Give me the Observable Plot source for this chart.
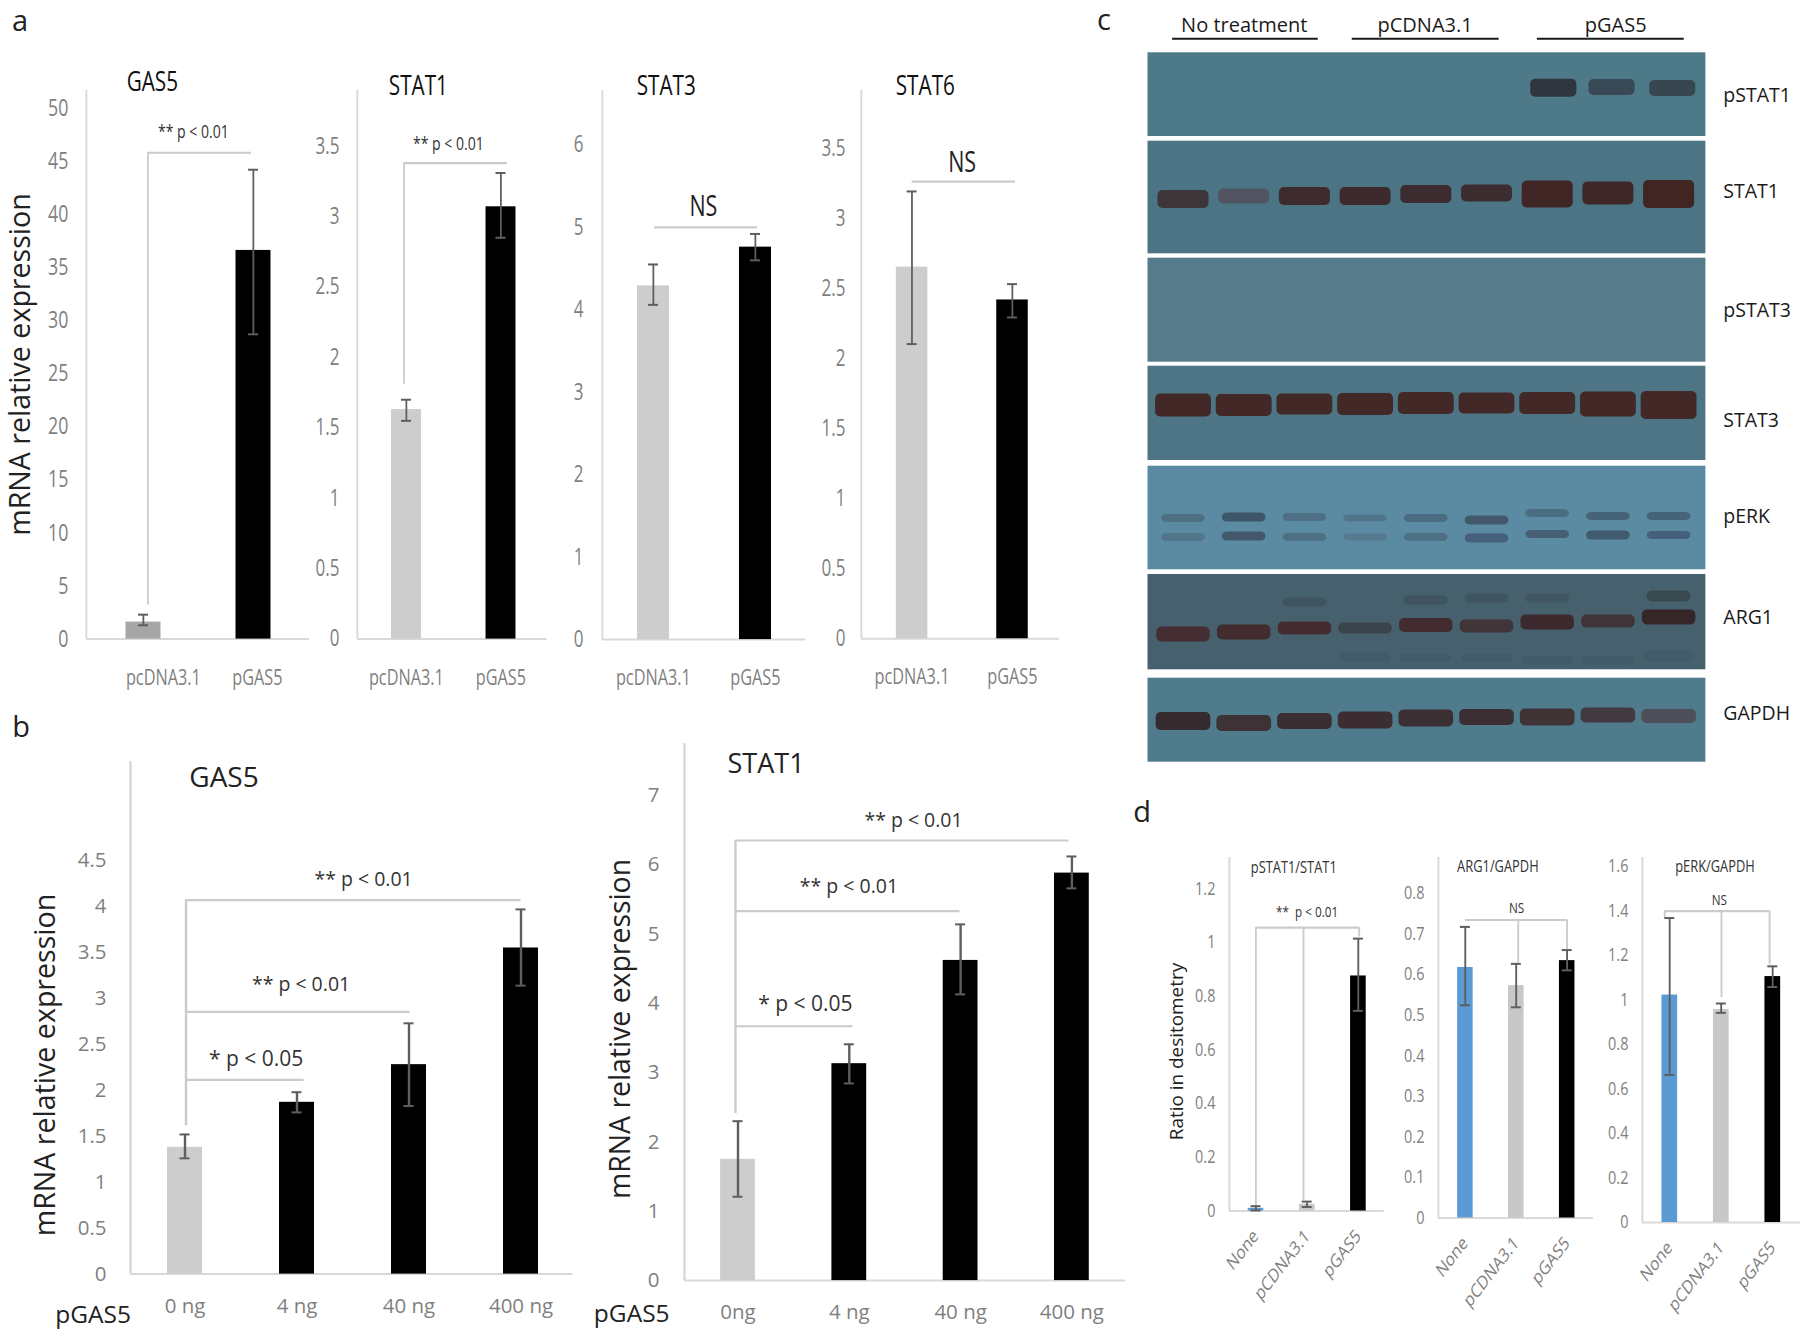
<!DOCTYPE html>
<html><head><meta charset="utf-8">
<script src="https://cdn.jsdelivr.net/npm/d3@7"></script>
<script src="https://cdn.jsdelivr.net/npm/@observablehq/plot@0.6"></script>
<style>
html,body{margin:0;background:#fff}
#stage{position:relative;width:1800px;height:1330px;background:#fff;overflow:hidden;font-family:"Open Sans",sans-serif}
#stage svg{position:absolute;background:transparent;max-width:none}
.letter{position:absolute;font-size:29px;line-height:1;color:#222;transform:translate(-50%,-50%)}
</style></head><body><div id="stage"></div>
<script>
// ---------- DATA: panel a ----------
const trialCats = ["pcDNA3.1", "pGAS5"];
const aGas5Val = [1.6, 36.6], aGas5Lo = [1.3, 28.7], aGas5Hi = [2.3, 44.2];
const aStat1Val = [1.63, 3.07], aStat1Lo = [1.55, 2.85], aStat1Hi = [1.70, 3.31];
const aStat3Val = [4.29, 4.76], aStat3Lo = [4.06, 4.60], aStat3Hi = [4.55, 4.92];
const aStat6Val = [2.655, 2.42], aStat6Lo = [2.105, 2.295], aStat6Hi = [3.195, 2.533];
const ticksGas5A = [0,5,10,15,20,25,30,35,40,45,50];
const ticksHalf = [0,0.5,1,1.5,2,2.5,3,3.5];
const ticksStat3 = [0,1,2,3,4,5,6];
// ---------- DATA: panel b ----------
const doseCatsA = ["0 ng","4 ng","40 ng","400 ng"];
const doseCatsB = ["0ng","4 ng","40 ng","400 ng"];
const bGas5Val = [1.38,1.87,2.28,3.55], bGas5Lo = [1.26,1.76,1.83,3.14], bGas5Hi = [1.52,1.98,2.73,3.97];
const bStat1Val = [1.75,3.13,4.62,5.88], bStat1Lo = [1.21,2.845,4.13,5.66], bStat1Hi = [2.30,3.41,5.14,6.12];
const ticksBGas5 = [0,0.5,1,1.5,2,2.5,3,3.5,4,4.5];
const ticksBStat1 = [0,1,2,3,4,5,6,7];
// ---------- DATA: panel d ----------
const densCats = ["None","pCDNA3.1","pGAS5"];
const dPstatVal = [0.01,0.025,0.875], dPstatLo = [0.002,0.015,0.745], dPstatHi = [0.018,0.035,1.014];
const dArgVal = [0.617,0.5725,0.634], dArgLo = [0.524,0.519,0.61], dArgHi = [0.717,0.626,0.66];
const dErkVal = [1.022,0.957,1.105], dErkLo = [0.663,0.942,1.058], dErkHi = [1.368,0.984,1.151];
const ticksDPstat = [0,0.2,0.4,0.6,0.8,1,1.2];
const ticksDArg = [0,0.1,0.2,0.3,0.4,0.5,0.6,0.7,0.8];
const ticksDErk = [0,0.2,0.4,0.6,0.8,1,1.2,1.4,1.6];
// ---------- DATA: panel c (blots) ----------
const blotRows = ["pSTAT1","STAT1","pSTAT3","STAT3","pERK","ARG1","GAPDH"];
const blotTop = [52.3,140.7,257.7,365.7,465.7,574,677.7];
const blotBottom = [136,253.3,361.7,460,569.3,669.3,761.7];
const blotFill = ["#4e7988","#4b7585","#567b8b","#4e7585","#5b8ba2","#46606d","#507b8d"];
const blotLabelY = [95,191.7,310,420,516,617,713];
const groups = ["No treatment","pCDNA3.1","pGAS5"];
const groupFrom = [-0.18,2.78,5.83], groupTo = [2.22,5.2,8.25], groupMid = [1.0,3.98,7.12];
const laneIds = [0,1,2,3,4,5,6,7,8];
const bands = [
 {lanes:[6.1,7.06,8.06], y:[87.7,87,88], h:[18,16,16], w:0.38, c:["#30363d","#384855","#384651"]},
 {lanes:laneIds, y:[199,196,196,196,194,193,194,193,194], h:[18,15,18,18,18,17,27,23,28], w:0.42,
  c:["#3c3639","#535462","#3d2b2d","#3d2a2c","#3c2c2f","#3d2d30","#3f2624","#3e2726","#402523"]},
 {lanes:laneIds, y:[405,405,404,404,403,403,403,404,405], h:[23,22,21,22,22,21,22,25,28], w:0.46,
  c:Array(9).fill("#422927")},
 {lanes:laneIds, y:[518,517,517,518,518,520,513,516,516], h:[8,9,8,7,8,9,8,8,8], w:0.36,
  c:["#4f6f82","#3e5768","#4f7084","#50748a","#4a6b80","#41596b","#4b6d82","#45647a","#45647a"]},
 {lanes:laneIds, y:[537,536,537,537,537,538,534,535,535], h:[8,9,8,7,8,9,8,9,8], w:0.36,
  c:["#537589","#41596b","#4f7084","#557a90","#4e7085","#45607a","#475f74","#405a6e","#45607a"]},
 {lanes:laneIds, y:[634,632,628,628,625,626,622,621,617], h:[15,15,13,11,14,13,15,13,15], w:0.44,
  c:["#452e33","#432c30","#452c30","#3a444b","#422c30","#41353a","#3d2a2e","#413439","#352628"]},
 {lanes:laneIds, y:[721,723,721,720,718,717,717,715,716], h:[18,16,16,17,17,16,17,15,14], w:0.45,
  c:["#352a2e","#3d3236","#3b2e32","#3c2d33","#3b2f33","#3c2f33","#3f3335","#413b41","#4f4f5a"]}
];
const smears = [
 {lanes:[2,4,5,6,8], y:[602,600,598,598,596], h:[9,9,9,9,11], w:0.36, c:["#3f5360","#3f5360","#3f5360","#415662","#38494f"]},
 {lanes:[3,4,5,6,7,8], y:[657,658,658,660,660,656], h:[9,9,9,9,9,11], w:0.42, c:Array(6).fill("#415b68")}
];

// ---------- LAYOUT (page pixels) ----------
const greyAxis = "#d9d9d9", greyBracket = "#cbcbcb", tickGrey = "#7f7f7f", darkText = "#222";
const slotOf = (p, px) => 0.5 + (px - p.c0) / p.sp;
const axisTitles = [
 {t:"mRNA relative expression", cx:20, cy:364, f:28.6},
 {t:"mRNA relative expression", cx:45, cy:1064.5, f:28.6},
 {t:"mRNA relative expression", cx:620.5, cy:1028.5, f:28.4},
 {t:"Ratio in desitometry", cx:1176, cy:1051, f:18.9}
];
const panels = [
 {sq:.74, c0:143, sp:110, axisLeft:86, axisRight:309, top:90, base:638.6, ymax:51.66, bw:.318, cap:10, ml:86,
  cats:trialCats, val:aGas5Val, lo:aGas5Lo, hi:aGas5Hi, fills:["#a6a6a6","#000"], ticks:ticksGas5A, labelSlots:[.682,1.536],
  tickFont:24, xFont:22, xPad:30, tickPad:18,
  h:[{y:45.8,x1:.541,x2:1.482}], v:[{x:.541,y1:45.8,y2:3.2}],
  texts:[{t:"GAS5",x:.582,y:52.46,f:28,c:"#111"},{t:"** p < 0.01",x:.955,y:47.8,f:19,c:"#333"}]},
 {sq:.74, c0:406, sp:94.5, axisLeft:357, axisRight:546.4, top:90, base:638.6, ymax:3.896, bw:.317, cap:10, ml:40,
  cats:trialCats, val:aStat1Val, lo:aStat1Lo, hi:aStat1Hi, fills:["#cdcdcd","#000"], ticks:ticksHalf,
  tickFont:23, xFont:22, xPad:30, tickPad:18,
  h:[{y:3.38,x1:.475,x2:1.569}], v:[{x:.475,y1:3.38,y2:1.81}],
  texts:[{t:"STAT1",x:.627,y:3.93,f:28,c:"#111"},{t:"** p < 0.01",x:.944,y:3.52,f:19,c:"#333"}]},
 {sq:.74, c0:653, sp:102, axisLeft:602, axisRight:805.4, top:90, base:639.1, ymax:6.66, bw:.314, cap:10, ml:40,
  cats:trialCats, val:aStat3Val, lo:aStat3Lo, hi:aStat3Hi, fills:["#cdcdcd","#000"], ticks:ticksStat3,
  tickFont:23, xFont:22, xPad:30, tickPad:19,
  h:[{y:5.0,x1:.51,x2:1.52}], v:[],
  texts:[{t:"STAT3",x:.627,y:6.72,f:28,c:"#111"},{t:"NS",x:.99,y:5.25,f:29,c:"#222"}]},
 {sq:.74, c0:911.6, sp:100.4, axisLeft:861, axisRight:1059, top:90, base:638.3, ymax:3.916, bw:.314, cap:10, ml:40,
  cats:trialCats, val:aStat6Val, lo:aStat6Lo, hi:aStat6Hi, fills:["#cdcdcd","#000"], ticks:ticksHalf,
  tickFont:23, xFont:22, xPad:30, tickPad:16,
  h:[{y:3.265,x1:.5,x2:1.53}], v:[],
  texts:[{t:"STAT6",x:.633,y:3.95,f:28,c:"#111"},{t:"NS",x:1,y:3.40,f:29,c:"#222"}]},
 {sq:1, c0:184, sp:112, axisLeft:129.5, axisRight:572, top:761.4, base:1274, ymax:5.58, bw:.3125, cap:10, ml:129,
  cats:doseCatsA, val:bGas5Val, lo:bGas5Lo, hi:bGas5Hi, fills:["#cdcdcd","#000","#000","#000"], ticks:ticksBGas5,
  tickFont:20.5, xFont:20.5, xPad:24.5, tickPad:24,
  h:[{y:2.115,x1:.509,x2:1.563},{y:2.855,x1:.509,x2:2.509},{y:4.07,x1:.509,x2:3.5}], v:[{x:.509,y1:4.07,y2:1.615}],
  texts:[{t:"GAS5",x:.848,y:5.40,f:28,c:"#222"},
         {t:"* p < 0.05",x:1.134,y:2.34,f:21,c:"#333"},{t:"** p < 0.01",x:1.536,y:3.148,f:19.5,c:"#333"},{t:"** p < 0.01",x:2.095,y:4.29,f:19.5,c:"#333"},
         {t:"pGAS5",x:-.321,y:-.447,f:24.5,c:darkText}]},
 {sq:1, c0:737, sp:111.3, axisLeft:683.5, axisRight:1124.5, top:743.4, base:1280.5, ymax:7.75, bw:.3125, cap:10, ml:100,
  cats:doseCatsB, val:bStat1Val, lo:bStat1Lo, hi:bStat1Hi, fills:["#cdcdcd","#000","#000","#000"], ticks:ticksBStat1,
  tickFont:20.5, xFont:20.5, xPad:24, tickPad:25,
  h:[{y:3.67,x1:.477,x2:1.533},{y:5.33,x1:.477,x2:2.495},{y:6.35,x1:.477,x2:3.474}], v:[{x:.477,y1:6.35,y2:2.41}],
  texts:[{t:"STAT1",x:.752,y:7.45,f:27,c:"#222"},
         {t:"* p < 0.05",x:1.106,y:3.99,f:21,c:"#333"},{t:"** p < 0.01",x:1.497,y:5.68,f:19.5,c:"#333"},{t:"** p < 0.01",x:2.077,y:6.635,f:19.5,c:"#333"},
         {t:"pGAS5",x:-.455,y:-.48,f:24.5,c:darkText}]},
 {sq:.78, c0:1255.7, sp:51.2, axisLeft:1229.2, axisRight:1384, top:857, base:1210.5, ymax:1.316, bw:.305, cap:10, ml:70,
  cats:densCats, val:dPstatVal, lo:dPstatLo, hi:dPstatHi, fills:["#5b9bd5","#c8c8c8","#000"], ticks:ticksDPstat,
  tickFont:18.5, xFont:19, xPad:22, tickPad:14, rotate:true,
  h:[{y:1.055,x1:.5,x2:2.516}], v:[{x:.5,y1:1.055,y2:.02},{x:1.43,y1:1.055,y2:.04},{x:2.517,y1:1.055,y2:1.02}],
  texts:[{t:"pSTAT1/STAT1",x:1.24,y:1.278,f:16.5,c:"#333"},{t:"**  p < 0.01",x:1.5,y:1.112,f:15,c:"#333"}]},
 {sq:.78, c0:1464.5, sp:50.9, axisLeft:1437.6, axisRight:1592.4, top:857, base:1217.5, ymax:.888, bw:.305, cap:10, ml:32,
  cats:densCats, val:dArgVal, lo:dArgLo, hi:dArgHi, fills:["#5b9bd5","#c8c8c8","#000"], ticks:ticksDArg,
  tickFont:18.5, xFont:19, xPad:22, tickPad:14, rotate:true,
  h:[{y:.734,x1:.5,x2:2.5}], v:[{x:1.54,y1:.734,y2:.628},{x:2.5,y1:.734,y2:.66}],
  texts:[{t:"ARG1/GAPDH",x:1.14,y:.865,f:16.5,c:"#333"},{t:"NS",x:1.508,y:.764,f:15,c:"#333"}]},
 {sq:.78, c0:1669, sp:51.5, axisLeft:1641.7, axisRight:1800, top:857, base:1222, ymax:1.64, bw:.305, cap:10, ml:32,
  cats:densCats, val:dErkVal, lo:dErkLo, hi:dErkHi, fills:["#5b9bd5","#c8c8c8","#000"], ticks:ticksDErk,
  tickFont:18.5, xFont:19, xPad:22, tickPad:14, rotate:true,
  h:[{y:1.399,x1:.403,x2:2.44}], v:[{x:1.506,y1:1.399,y2:1.01},{x:2.44,y1:1.399,y2:1.158},{x:.403,y1:1.399,y2:1.37}],
  texts:[{t:"pERK/GAPDH",x:1.38,y:1.597,f:16.5,c:"#333"},{t:"NS",x:1.465,y:1.45,f:15,c:"#333"}]}
];

const stage = document.getElementById("stage");
const FONT = '"Open Sans", sans-serif';

function place(svg, left, top, w, h) {
  svg.setAttribute("width", w);
  svg.setAttribute("height", h);
  svg.setAttribute("preserveAspectRatio", "none");
  svg.style.left = left + "px";
  svg.style.top = top + "px";
  svg.style.width = w + "px";
  svg.style.height = h + "px";
  stage.appendChild(svg);
}

function barPanel(p) {
  const mt = 60, mb = 95, mr = 1;
  const boxW = p.axisRight - p.axisLeft + p.ml + mr, boxH = p.base - p.top + mt + mb;
  const x0 = slotOf(p, p.axisLeft), x1 = slotOf(p, p.axisRight);
  const rows = p.cats.map((cat, i) => ({cat, slot: i + 0.5, v: p.val[i], lo: p.lo[i], hi: p.hi[i], fill: p.fills[i]}));
  const capH = p.cap / p.sp / 2, halfBar = p.bw / 2;
  const labelSlots = p.labelSlots || rows.map(d => d.slot);
  const svg = Plot.plot({
    width: boxW / p.sq, height: boxH,
    marginLeft: p.ml / p.sq, marginRight: mr / p.sq, marginTop: mt, marginBottom: mb,
    style: {fontFamily: FONT, background: "transparent", overflow: "visible"},
    x: {domain: [x0, x1], axis: null},
    y: {domain: [0, p.ymax], axis: null},
    color: {type: "identity"},
    marks: [
      Plot.ruleX([x0], {y1: 0, y2: p.ymax, stroke: greyAxis, strokeWidth: 2.5}),
      Plot.ruleY([0], {x1: x0, x2: x1, stroke: greyAxis, strokeWidth: 2}),
      Plot.ruleX(p.v, {x: "x", y1: "y1", y2: "y2", stroke: greyBracket, strokeWidth: 2.4}),
      Plot.ruleY(p.h, {y: "y", x1: "x1", x2: "x2", stroke: greyBracket, strokeWidth: 2.2}),
      Plot.rect(rows, {x1: d => d.slot - halfBar, x2: d => d.slot + halfBar, y1: 0, y2: "v", fill: "fill"}),
      Plot.ruleX(rows, {x: "slot", y1: "lo", y2: "hi", stroke: "#5e5e5e", strokeWidth: 2.4}),
      Plot.ruleY(rows, {y: "lo", x1: d => d.slot - capH, x2: d => d.slot + capH, stroke: "#5e5e5e", strokeWidth: 2}),
      Plot.ruleY(rows, {y: "hi", x1: d => d.slot - capH, x2: d => d.slot + capH, stroke: "#5e5e5e", strokeWidth: 2}),
      Plot.axisY({ticks: p.ticks, tickSize: 0, tickPadding: p.tickPad / p.sq, fontSize: p.tickFont, color: tickGrey,
        label: null, tickFormat: d => String(d)}),
      Plot.axisX({ticks: labelSlots, tickSize: 0, tickPadding: p.xPad, fontSize: p.xFont, color: tickGrey, label: null,
        tickRotate: p.rotate ? -45 : 0,
        tickFormat: (d, i) => p.cats[labelSlots.indexOf(d)]}),
      Plot.text(p.texts, {x: "x", y: "y", text: "t", fontSize: "f", fill: "c"})
    ]
  });
  place(svg, p.axisLeft - p.ml, p.top - mt, boxW, boxH);
}
panels.forEach(barPanel);

// ---------- vertical axis titles (not squeezed) ----------
place(Plot.plot({
  width: 1800, height: 1330, margin: 0,
  style: {fontFamily: FONT, background: "transparent", overflow: "visible"},
  x: {domain: [0, 1800], range: [0, 1800], axis: null},
  y: {domain: [0, 1330], range: [0, 1330], axis: null},
  marks: [Plot.text(axisTitles, {x: "cx", y: "cy", text: "t", fontSize: "f", fill: darkText, rotate: -90})]
}), 0, 0, 1800, 1330);

// ---------- panel c ----------
(function blot() {
  const left = 1100, W = 700, H = 780;
  const lanePx = i => 1183 + i * 60.7;
  const xDom = [-0.585, 8.606];
  const rows = blotRows.map((name, i) => ({name, top: blotTop[i], bottom: blotBottom[i], fill: blotFill[i], ly: blotLabelY[i]}));
  const expand = list => list.flatMap(b => b.lanes.map((lane, i) => ({lane, y: b.y[i], h: b.h[i], w: b.w, c: b.c[i]})));
  const hdr = groups.map((g, i) => ({g, a: groupFrom[i], b: groupTo[i], m: groupMid[i]}));
  const bandOpts = {x1: d => d.lane - d.w, x2: d => d.lane + d.w, y1: d => d.y - d.h / 2, y2: d => d.y + d.h / 2, fill: "c", rx: 5};
  const svg = Plot.plot({
    width: W, height: H, margin: 0,
    style: {fontFamily: FONT, background: "transparent", overflow: "visible"},
    x: {domain: xDom, range: [lanePx(xDom[0]) - left, lanePx(xDom[1]) - left], axis: null},
    y: {domain: [0, H], range: [0, H], axis: null},
    color: {type: "identity"},
    marks: [
      Plot.rect(rows, {x1: xDom[0], x2: xDom[1], y1: "top", y2: "bottom", fill: "fill"}),
      Plot.rect(expand(smears), {...bandOpts, ariaLabel: "smear"}),
      Plot.rect(expand(bands), {...bandOpts, ariaLabel: "band"}),
      Plot.ruleY(hdr, {y: 38.3, x1: "a", x2: "b", stroke: "#1a1a1a", strokeWidth: 2}),
      Plot.text(hdr, {x: "m", y: 25, text: "g", fontSize: 20, fill: "#1a1a1a"}),
      Plot.text(rows, {x: 8.893, y: "ly", text: "name", fontSize: 19.5, fill: "#1a1a1a", textAnchor: "start"})
    ]
  });
  svg.querySelectorAll('[aria-label="band"]').forEach(g => g.style.filter = "blur(2px)");
  svg.querySelectorAll('[aria-label="smear"]').forEach(g => g.style.filter = "blur(3.5px)");
  place(svg, left, 0, W, H);
})();

// panel letters
[["a",20,19],["b",21,725],["c",1104,18],["d",1142,810]].forEach(([t,x,y]) => {
  const el = document.createElement("div");
  el.className = "letter"; el.textContent = t;
  el.style.left = x + "px"; el.style.top = y + "px";
  stage.appendChild(el);
});
</script></body></html>
